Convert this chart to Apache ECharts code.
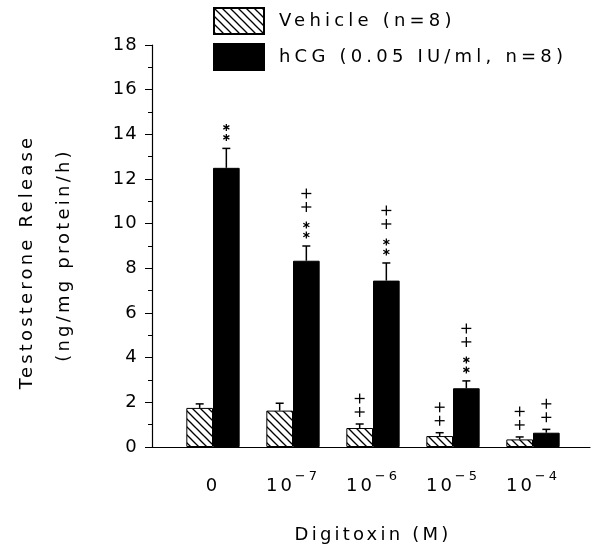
<!DOCTYPE html>
<html><head><meta charset="utf-8">
<script src="https://cdn.jsdelivr.net/npm/echarts@6/dist/echarts.min.js"></script>
<style>html,body{margin:0;padding:0;background:#fff}#c{width:592px;height:550px}</style>
</head><body><div id="c"></div>
<script>
const categories = ['0', '10^-7', '10^-6', '10^-5', '10^-4'];
const vehicleMean = [1.75, 1.63, 0.85, 0.49, 0.34];
const vehicleSem = [0.18, 0.33, 0.18, 0.15, 0.11];
const hcgMean = [12.5, 8.34, 7.45, 2.63, 0.64];
const hcgSem = [0.87, 0.66, 0.79, 0.33, 0.15];
const vehicleMarks = ['', '', '++', '++', '++'];
const hcgMarks = ['**', '**++', '**++', '**++', '++'];
const yMin = 0, yMax = 18, yInterval = 2;
const seriesNames = ['Vehicle (n=8)', 'hCG (0.05 IU/ml, n=8)'];
const xTitle = 'Digitoxin (M)';
const yTitle = ['Testosterone Release', '(ng/mg protein/h)'];

// wide letter spacing of the original plotter-style lettering (canvas letterSpacing keyed by a font tag)
(function () {
  const P = CanvasRenderingContext2D.prototype;
  const f = P.fillText, s = P.strokeText, m = P.measureText;
  function ls(ctx) {
    const mm = /ls(\d+)/.exec(ctx.font);
    try { ctx.letterSpacing = mm ? (parseInt(mm[1], 10) / 10) + 'px' : '0px'; } catch (e) {}
  }
  P.fillText = function () { ls(this); return f.apply(this, arguments); };
  P.strokeText = function () { ls(this); return s.apply(this, arguments); };
  P.measureText = function () { ls(this); return m.apply(this, arguments); };
})();

const F_LEG = 'DejaVu Sans, ls42';
const F_YTICK = 'DejaVu Sans, ls12';
const F_XTICK = 'DejaVu Sans, ls30';
const F_TITLE = 'DejaVu Sans, ls32';

function hatchCanvas() {
  const c = document.createElement('canvas'); c.width = 8; c.height = 8;
  const g = c.getContext('2d');
  g.fillStyle = '#fff'; g.fillRect(0, 0, 8, 8);
  g.strokeStyle = '#000'; g.lineWidth = 1.3;
  g.beginPath(); g.moveTo(-1, -1); g.lineTo(9, 9); g.stroke();
  g.beginPath(); g.moveTo(-1, 7); g.lineTo(1, 9); g.stroke();
  g.beginPath(); g.moveTo(7, -1); g.lineTo(9, 1); g.stroke();
  return c;
}
const hatch = { image: hatchCanvas(), repeat: 'repeat' };

function errRender(sign, means, sems, marks) {
  return function (params, api) {
    const i = params.dataIndex;
    const m = means[i], s = sems[i];
    const band = api.size([1, 0])[0];
    const base = api.coord([i, m]);
    const top = api.coord([i, m + s]);
    const x = base[0] + sign * band / 6;
    const st = { stroke: '#000', lineWidth: 1.5 };
    const ch = [
      { type: 'line', shape: { x1: x, y1: base[1], x2: x, y2: top[1] }, style: st },
      { type: 'line', shape: { x1: x - 4, y1: top[1], x2: x + 4, y2: top[1] }, style: st }
    ];
    let y = top[1]; let prev = null;
    for (const c of marks[i]) {
      let gap;
      if (prev === null) gap = c === '*' ? 11 : 12;
      else if (prev === '*' && c === '*') gap = 10;
      else if (prev === '+' && c === '+') gap = 13.5;
      else gap = 18;
      y -= gap;
      const ms = { stroke: '#000', lineWidth: 1.3 };
      if (c === '+') {
        ch.push({ type: 'line', shape: { x1: x - 5, y1: y, x2: x + 5, y2: y }, style: ms });
        ch.push({ type: 'line', shape: { x1: x, y1: y - 5, x2: x, y2: y + 5 }, style: ms });
      } else {
        const r = 3.5;
        for (const a of [90, 30, 150]) {
          const dx = r * Math.cos(a * Math.PI / 180), dy = r * Math.sin(a * Math.PI / 180);
          ch.push({ type: 'line', shape: { x1: x - dx, y1: y - dy, x2: x + dx, y2: y + dy }, style: ms });
        }
      }
      prev = c;
    }
    return { type: 'group', children: ch };
  };
}

const supPad = 12, baseLH = 20, supLH = 15;
const chart = echarts.init(document.getElementById('c'));
chart.setOption({
  animation: false,
  backgroundColor: '#fff',
  textStyle: { fontFamily: 'DejaVu Sans', color: '#000' },
  legend: {
    orient: 'vertical', left: 213, top: 7, padding: 0,
    itemWidth: 50, itemHeight: 26, itemGap: 8, icon: 'rect',
    selectedMode: false,
    textStyle: { fontFamily: F_LEG, fontSize: 18, color: '#000', padding: [0, 0, 0, 10] },
    data: seriesNames
  },
  grid: [
    { left: 152, right: 2, top: 45, bottom: 103, containLabel: false, outerBoundsMode: 'none' },
    { left: 173, right: 19, top: 45, bottom: 103, containLabel: false, outerBoundsMode: 'none' }
  ],
  xAxis: [
    { gridIndex: 0, type: 'value', min: 0, max: 1, axisLine: { lineStyle: { color: '#000', width: 1.2 } },
      axisTick: { show: false }, axisLabel: { show: false }, splitLine: { show: false } },
    { gridIndex: 1, type: 'category', data: categories,
      axisLine: { show: false }, axisTick: { show: false },
      axisLabel: {
        interval: 0,
        margin: 30,
        formatter: v => {
          const m = v.match(/^(\d+)\^(-?\d+)$/);
          return m ? `{b|${m[1]}}{s|${m[2].replace('-', '\u2212')}}` : `{z|${v}}`;
        },
        rich: {
          b: { fontFamily: F_XTICK, fontSize: 18, color: '#000', lineHeight: baseLH, verticalAlign: 'bottom' },
          z: { fontFamily: F_XTICK, fontSize: 18, color: '#000', lineHeight: baseLH, verticalAlign: 'bottom', padding: [supLH + supPad - baseLH, 0, 0, 0] },
          s: { fontFamily: F_XTICK, fontSize: 13, color: '#000', lineHeight: supLH, verticalAlign: 'bottom', padding: [0, 0, supPad, 0] }
        }
      },
      name: xTitle, nameLocation: 'middle', nameGap: 78,
      nameTextStyle: { fontFamily: F_TITLE, fontSize: 18, color: '#000' }
    }
  ],
  yAxis: [
    { gridIndex: 0, type: 'value', min: yMin, max: yMax, interval: yInterval,
      axisLine: { show: true, lineStyle: { color: '#000', width: 1.2 } },
      axisTick: { show: true, length: 7, lineStyle: { color: '#000', width: 1 } },
      minorTick: { show: true, splitNumber: 2, length: 4, lineStyle: { color: '#000', width: 1 } },
      axisLabel: { margin: 14, fontFamily: F_YTICK, fontSize: 18, color: '#000' },
      splitLine: { show: false }
    },
    { gridIndex: 1, type: 'value', min: yMin, max: yMax, show: false, splitLine: { show: false } }
  ],
  graphic: [
    { type: 'text', x: 27, y: 262, rotation: Math.PI / 2,
      style: { text: yTitle[0], fontFamily: F_TITLE, fontSize: 18, fill: '#000', align: 'center', verticalAlign: 'middle' } },
    { type: 'text', x: 64, y: 255, rotation: Math.PI / 2,
      style: { text: yTitle[1], fontFamily: F_TITLE, fontSize: 18, fill: '#000', align: 'center', verticalAlign: 'middle' } }
  ],
  series: [
    { name: seriesNames[0], type: 'bar', xAxisIndex: 1, yAxisIndex: 1, data: vehicleMean,
      barWidth: '33.33%', barGap: '0%',
      itemStyle: { color: hatch, borderColor: '#000', borderWidth: 1 } },
    { name: seriesNames[1], type: 'bar', xAxisIndex: 1, yAxisIndex: 1, data: hcgMean,
      barWidth: '33.33%', barGap: '0%',
      itemStyle: { color: '#000', borderColor: '#000', borderWidth: 1 } },
    { type: 'custom', xAxisIndex: 1, yAxisIndex: 1, z: 5,
      data: vehicleMean.map((v, i) => [i, v]),
      renderItem: errRender(-1, vehicleMean, vehicleSem, vehicleMarks) },
    { type: 'custom', xAxisIndex: 1, yAxisIndex: 1, z: 5,
      data: hcgMean.map((v, i) => [i, v]),
      renderItem: errRender(1, hcgMean, hcgSem, hcgMarks) }
  ]
});
</script></body></html>
